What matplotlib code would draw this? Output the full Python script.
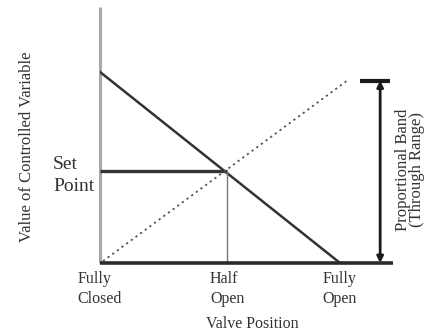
import matplotlib
matplotlib.use('Agg')
import matplotlib.pyplot as plt

plt.rcParams['font.family'] = ['Liberation Serif', 'DejaVu Serif']

# valve position (0 = fully closed, 1 = fully open) and controlled variable value
valve_ticks = [0.0, 0.53, 1.0]
valve_labels = ['Fully\nClosed', 'Half\nOpen', 'Fully\nOpen']
set_point = 0.48
half_open = 0.53

# direct-acting controller line (solid) and reverse line (dotted)
solid_x = [0.0, 1.0]
solid_y = [1.0, 0.0]
dotted_x = [0.0125, 1.03]
dotted_y = [0.01, 0.955]

# proportional band marker
band_x = 1.167
band_top = 0.955
band_cap = [1.083, 1.208]

W, H = 427, 331
fig = plt.figure(figsize=(W / 100, H / 100), dpi=100, facecolor='white')
ax = fig.add_axes([100 / W, (H - 263) / H, (420 - 100) / W, (263 - 7) / H])
ax.set_xlim(0, 1.333)
ax.set_ylim(0, 1.34)
ax.patch.set_alpha(0)
for s in ax.spines.values():
    s.set_visible(False)

txt = '#333333'

# axes lines
ax.plot([0, 0], [0, 1.34], color='#a8a8a8', lw=2.2, solid_capstyle='butt', clip_on=False)
ax.plot([0, 1.221], [0, 0], color='#2a2a2a', lw=2.6, solid_capstyle='butt', clip_on=False, zorder=5)

# lines
ax.plot(solid_x, solid_y, color='#333333', lw=1.8)
ax.plot([0, half_open], [set_point, set_point], color='#333333', lw=2.4, solid_capstyle='butt')
ax.plot([half_open, half_open], [0, set_point], color='#777777', lw=1.0)
ax.plot(dotted_x, dotted_y, color='#555555', lw=1.3, ls=(0, (1.2, 2.0)))

# proportional band
ax.plot(band_cap, [band_top, band_top], color='#1a1a1a', lw=3, solid_capstyle='butt')
ax.annotate('', xy=(band_x, 0.0), xytext=(band_x, band_top),
            arrowprops=dict(arrowstyle='<|-|>', color='#1a1a1a', lw=2, mutation_scale=9, shrinkA=0, shrinkB=0))
ax.text(1.29, 0.49, 'Proportional Band\n(Through Range)', rotation=90, ha='center', va='center',
        fontsize=12, color=txt, linespacing=0.85, multialignment='center')

# ticks
ax.set_xticks(valve_ticks)
ax.set_xticklabels(valve_labels, fontsize=11.5, color=txt, multialignment='left', linespacing=1.3)
ax.set_yticks([set_point])
ax.set_yticklabels(['Set\nPoint'], fontsize=14, color=txt, multialignment='left', linespacing=1.35)
ax.tick_params(length=0, pad=6)
ax.tick_params(axis='y', pad=4)

ax.text(half_open - 0.09, -0.275, 'Valve Position', ha='left', va='top', fontsize=11.5, color=txt,
        transform=ax.transData, clip_on=False)
fig.text(27 / W, 1 - 147 / H, 'Value of Controlled Variable', rotation=90, ha='center', va='center',
         fontsize=12, color=txt)

fig.savefig('out.png', dpi=100, facecolor='white')
